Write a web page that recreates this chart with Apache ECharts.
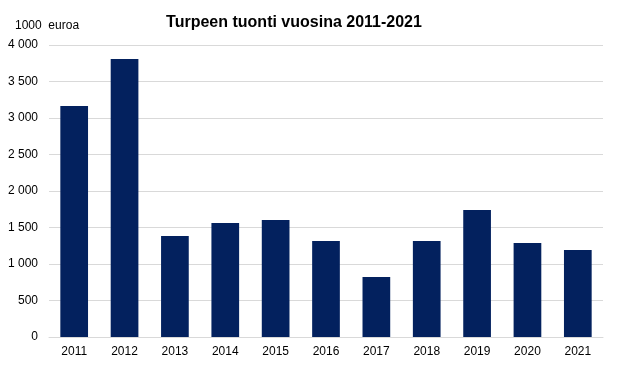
<!DOCTYPE html>
<html><head><meta charset="utf-8">
<script src="https://cdn.jsdelivr.net/npm/echarts@6/dist/echarts.min.js"></script>
<style>html,body{margin:0;padding:0;background:#fff}#c{width:618px;height:367px}</style>
</head><body><div id="c"></div>
<script>
var years = ['2011','2012','2013','2014','2015','2016','2017','2018','2019','2020','2021'];
var values = [3164, 3808, 1384, 1562, 1603, 1315, 822, 1315, 1740, 1288, 1192];
var titleText = 'Turpeen tuonti vuosina 2011-2021';
var unitText = '1000  euroa';

var chart = echarts.init(document.getElementById('c'), null, {renderer:'canvas'});
chart.setOption({
  animation: false,
  textStyle: {fontFamily: 'Liberation Sans, Arial, sans-serif'},
  title: {
    text: titleText, left: 289, top: 10, textAlign: 'center',
    textStyle: {fontSize: 16, fontWeight: 'bold', color: '#000', fontFamily: 'Liberation Sans, Arial, sans-serif'}
  },
  graphic: [{
    type: 'text', left: 15, top: 20,
    style: {text: unitText, fontSize: 12, fill: '#000', fontFamily: 'Liberation Sans, Arial, sans-serif'}
  }],
  grid: {left: 49, right: 15, top: 45, bottom: 30, containLabel: false},
  xAxis: {
    type: 'category', data: years,
    axisLine: {lineStyle: {color: '#d9d9d9'}},
    axisTick: {show: false},
    axisLabel: {color: '#000', fontSize: 12, margin: 9}
  },
  yAxis: {
    type: 'value', min: 0, max: 4000, interval: 500,
    axisLine: {show: false}, axisTick: {show: false},
    splitLine: {lineStyle: {color: '#d9d9d9'}},
    axisLabel: {color: '#000', fontSize: 12, margin: 11,
      formatter: function(v){ return String(v).replace(/\B(?=(\d{3})+(?!\d))/g, ' '); }}
  },
  series: [{
    type: 'bar', data: values, barWidth: '55%',
    itemStyle: {color: '#03215e'}
  }]
});
</script></body></html>
